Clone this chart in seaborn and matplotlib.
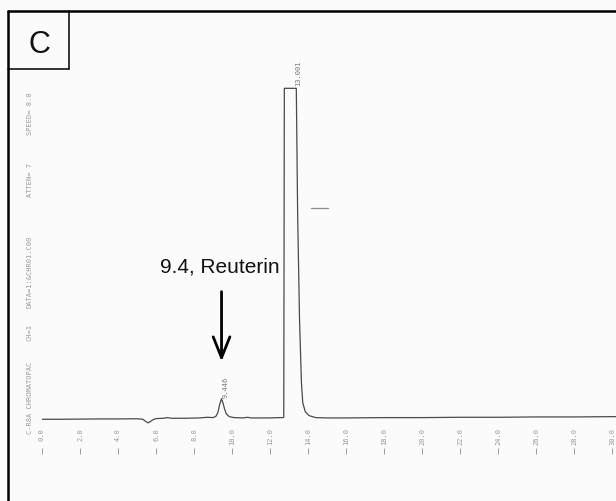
import matplotlib
matplotlib.use("Agg")
import matplotlib.pyplot as plt
import numpy as np
import seaborn as sns
from matplotlib.lines import Line2D

# chromatogram trace (time in min, signal in % of full scale;
# the main peak is off scale, so the recorder draws it flat at 100)
time = [0, 1, 2, 3, 4, 5, 5.3, 5.45, 5.58, 5.7, 5.85, 6.0, 6.4, 6.6, 6.8, 7.5,
        8.3, 8.7, 9.0, 9.15, 9.25, 9.35, 9.446, 9.52, 9.6, 9.7, 9.85, 10.1,
        10.6, 10.8, 11.0, 11.5, 12.0, 12.5, 12.68, 12.72, 12.75, 13.001,
        13.38, 13.45, 13.55, 13.65, 13.72, 13.85, 14.05, 14.4, 15, 16, 18, 20,
        22, 24, 26, 28, 30.2]
signal = [0, 0, 0.05, 0.1, 0.1, 0.15, 0.0, -0.6, -1.1, -0.7, -0.1, 0.2, 0.3, 0.5,
          0.3, 0.3, 0.4, 0.6, 0.5, 0.9, 2.0, 4.5, 6.2, 5.0, 3.2, 1.6, 0.8, 0.5,
          0.4, 0.6, 0.4, 0.4, 0.4, 0.5, 0.5, 0.6, 100, 100,
          100, 62, 30, 11, 5, 2.3, 1.1, 0.5, 0.4, 0.4, 0.5, 0.5,
          0.6, 0.6, 0.7, 0.7, 0.8]

peak_times = [9.446, 13.001]
peak_labels = ["9.446", "13.001"]
tick_vals = list(range(0, 31, 2))
tick_labels = [f"{v:.1f}" for v in tick_vals]
header = ["C-R8A CHROMATOPAC", "CH=1", "DATA=1:&CHR01.C00", "ATTEN= 7", "SPEED= 8.0"]
header_y = [398, 333, 272, 180, 114]  # pixel rows of the header pieces
dash_t = [14.16, 15.05]
dash_v = [63.9, 63.9]

sns.set_theme(style="white")
plt.rcParams['font.family'] = ['Liberation Sans', 'DejaVu Sans']

W, H = 616, 502
fig = plt.figure(figsize=(W / 100, H / 100), dpi=100, facecolor="#fbfbfb")

# axes: baseline at y=420 px, full scale (100) at y=88 px, 19 px per min
ybot = -(H - 420) / 3.32
ax = fig.add_axes([42 / W, 0, 574 / W, (H - 88) / H])
ax.set_facecolor("none")
sns.lineplot(x=time, y=signal, ax=ax, color="#4a4a4a", lw=0.9, sort=False)
ax.set_xlim(0, 30.2)
ax.set_ylim(ybot, 100.4)
ax.axis("off")

gray = "#9a9a9a"
for t, lab in zip(tick_vals, tick_labels):
    ax.text(t, -2.4, lab, rotation=90, ha="center", va="top", fontsize=5,
            family="DejaVu Sans Mono", color=gray)
ax.vlines(tick_vals, -10.5, -8.8, color=gray, lw=0.7)

ax.text(peak_times[0] + 0.22, 6.6, peak_labels[0], rotation=90, ha="center",
        va="bottom", fontsize=5, family="DejaVu Sans Mono", color="#777777")
ax.text(peak_times[1] + 0.45, 101.0, peak_labels[1], rotation=90, ha="center",
        va="bottom", fontsize=5, family="DejaVu Sans Mono", color="#777777",
        clip_on=False)
ax.plot(dash_t, dash_v, color="#8a8a8a", lw=0.9)

# annotation
ax.annotate("", xy=(peak_times[0], (420 - 362) / 3.32),
            xytext=(peak_times[0], (420 - 292) / 3.32),
            arrowprops=dict(arrowstyle="->,head_length=1.0,head_width=0.4",
                            lw=2.0, color="black", mutation_scale=15,
                            shrinkA=0, shrinkB=0))
ax.text(peak_times[0] - 0.08, (420 - 266) / 3.32, "9.4, Reuterin", ha="center",
        va="center", fontsize=15, color="#111111")

# header text along the left side
for s, py in zip(header, header_y):
    fig.text(30 / W, 1 - py / H, s, rotation=90, ha="center", va="center",
             fontsize=5, family="DejaVu Sans Mono", color=gray)

# frame and panel letter box
top = 1 - 12 / H
fig.add_artist(Line2D([8 / W, 1], [top, top], color="black", lw=1.8))
fig.add_artist(Line2D([8 / W, 8 / W], [0, top], color="black", lw=1.8))
fig.add_artist(Line2D([69 / W, 69 / W], [top, 1 - 70 / H], color="black", lw=1.1))
fig.add_artist(Line2D([8 / W, 69 / W], [1 - 70 / H, 1 - 70 / H], color="black", lw=1.1))
fig.text(39 / W, 1 - 45 / H, "C", ha="center", va="center", fontsize=22,
         color="#111111")

fig.savefig("out.png", dpi=100, facecolor=fig.get_facecolor())
